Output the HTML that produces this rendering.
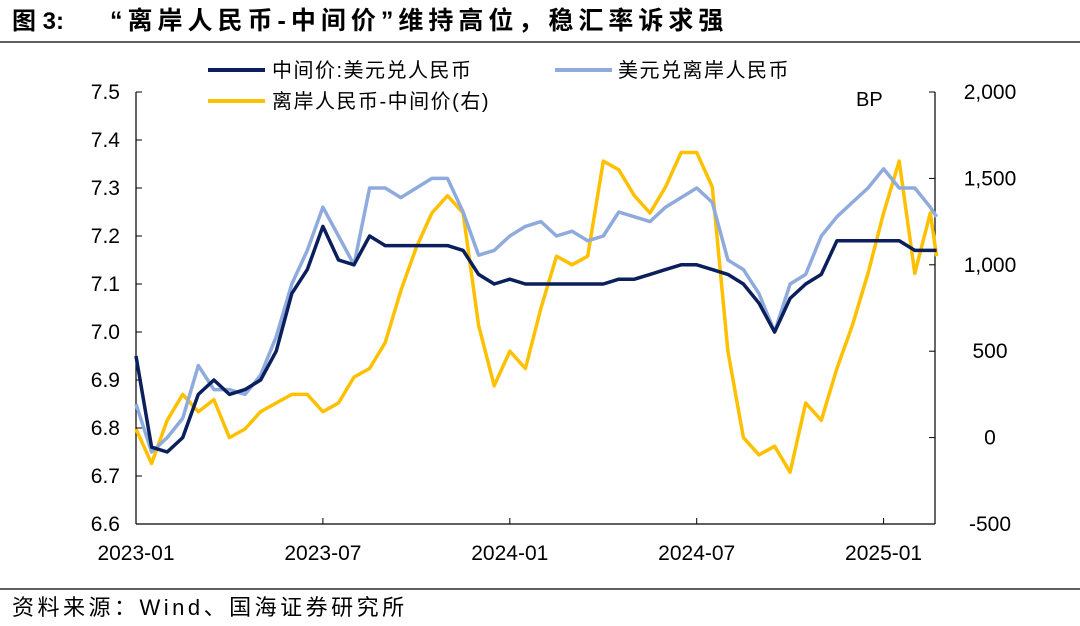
<!DOCTYPE html>
<html><head><meta charset="utf-8"><style>
body{margin:0;background:#fff;width:1080px;height:621px;overflow:hidden;font-family:"Liberation Sans","Noto Sans CJK SC",sans-serif}
</style></head><body>
<svg id="c" width="1080" height="621" xmlns="http://www.w3.org/2000/svg" font-family="Liberation Sans, Noto Sans CJK SC, sans-serif">
<text x="12" y="29" font-size="24" font-weight="bold" fill="#000">图 3:</text>
<text x="110" y="29" font-size="25" font-weight="bold" fill="#000" letter-spacing="5">“离岸人民币-中间价”维持高位，稳汇率诉求强</text>
<line x1="0" y1="42" x2="1080" y2="42" stroke="#000" stroke-width="1.2"/>
<line x1="0" y1="589" x2="1080" y2="589" stroke="#000" stroke-width="1.2"/>
<text x="12" y="615" font-size="22" fill="#000" letter-spacing="3.5">资料来源：Wind、国海证券研究所</text>
<g font-size="20" fill="#000" letter-spacing="1.5">
<line x1="208" y1="70" x2="265" y2="70" stroke="#0a1f5c" stroke-width="4"/>
<text x="272" y="77">中间价:美元兑人民币</text>
<line x1="555" y1="70" x2="612" y2="70" stroke="#8faadc" stroke-width="4"/>
<text x="618" y="77">美元兑离岸人民币</text>
<line x1="208" y1="101" x2="265" y2="101" stroke="#ffc000" stroke-width="4"/>
<text x="272" y="108">离岸人民币-中间价(右)</text>
</g>
<text x="856" y="106" font-size="20">BP</text>
<g id="axes"></g>
<g id="series"></g>
</svg>
<script>
const months=[0,0.5,1,1.5,2,2.5,3,3.5,4,4.5,5,5.5,6,6.5,7,7.5,8,8.5,9,9.5,10,10.5,11,11.5,12,12.5,13,13.5,14,14.5,15,15.5,16,16.5,17,17.5,18,18.5,19,19.5,20,20.5,21,21.5,22,22.5,23,23.5,24,24.5,25,25.5,25.7];
const central=[6.95,6.76,6.75,6.78,6.87,6.90,6.87,6.88,6.90,6.96,7.08,7.13,7.22,7.15,7.14,7.20,7.18,7.18,7.18,7.18,7.18,7.17,7.12,7.10,7.11,7.10,7.10,7.10,7.10,7.10,7.10,7.11,7.11,7.12,7.13,7.14,7.14,7.13,7.12,7.10,7.06,7.00,7.07,7.10,7.12,7.19,7.19,7.19,7.19,7.19,7.17,7.17,7.17];
const offshore=[6.85,6.75,6.78,6.82,6.93,6.88,6.88,6.87,6.91,6.99,7.10,7.17,7.26,7.20,7.14,7.30,7.30,7.28,7.30,7.32,7.32,7.25,7.16,7.17,7.20,7.22,7.23,7.20,7.21,7.19,7.20,7.25,7.24,7.23,7.26,7.28,7.30,7.27,7.15,7.13,7.08,7.00,7.10,7.12,7.20,7.24,7.27,7.30,7.34,7.30,7.30,7.26,7.24];
const spread=[50,-150,100,250,150,220,0,50,150,200,250,250,150,200,350,400,550,850,1100,1300,1400,1300,650,300,500,400,750,1050,1000,1050,1600,1550,1400,1300,1450,1650,1650,1450,500,0,-100,-50,-200,200,100,400,650,950,1300,1600,950,1300,1050];
const leftTicks=["7.5","7.4","7.3","7.2","7.1","7.0","6.9","6.8","6.7","6.6"];
const rightTicks=["2,000","1,500","1,000","500","0","-500"];
const xTicks=["2023-01","2023-07","2024-01","2024-07","2025-01"];
const X0=136,X1=935,Y0=92,Y1=524,PPM=31.15;
const x=m=>X0+m*PPM;
const yL=v=>Y1-(v-6.6)/0.9*(Y1-Y0);
const yR=v=>Y1-(v+500)/2500*(Y1-Y0);
const NS="http://www.w3.org/2000/svg";
function mk(t,a,p){const e=document.createElementNS(NS,t);for(const k in a)e.setAttribute(k,a[k]);p.appendChild(e);return e;}
const ax=document.getElementById('axes'),se=document.getElementById('series');
let e=mk('line',{x1:X0,y1:Y0,x2:X0,y2:Y1,stroke:'#000','stroke-width':1.2},ax);

e=mk('line',{x1:X1,y1:Y0,x2:X1,y2:Y1,stroke:'#000','stroke-width':1.2},ax);

e=mk('line',{x1:X0,y1:Y1,x2:X1,y2:Y1,stroke:'#000','stroke-width':1.2},ax);

leftTicks.forEach(t=>{const yy=yL(parseFloat(t));
 let l=mk('line',{x1:X0,y1:yy,x2:X0+6,y2:yy,stroke:'#000'},ax);
 
 let s=mk('text',{x:X0-16,y:yy+7,'font-size':21,'text-anchor':'end'},ax);s.textContent=t;
 });
rightTicks.forEach(t=>{const yy=yR(parseFloat(t.replace(',','')));
 let l=mk('line',{x1:X1-6,y1:yy,x2:X1,y2:yy,stroke:'#000'},ax);
 
 let s=mk('text',{x:990,y:yy+7,'font-size':21,'text-anchor':'middle'},ax);s.textContent=t;
 });
xTicks.forEach((t,i)=>{const xx=x(i*6);
 let l=mk('line',{x1:xx,y1:Y1,x2:xx,y2:Y1-6,stroke:'#000'},ax);
 
 let s=mk('text',{x:xx,y:560,'font-size':21,'text-anchor':'middle'},ax);s.textContent=t;
 });
function line(vals,fy,col,name){const d=vals.map((v,i)=>(i?'L':'M')+x(months[i]).toFixed(1)+','+fy(v).toFixed(1)).join('');
 const p=mk('path',{d:d,fill:'none',stroke:col,'stroke-width':3.5,'stroke-linejoin':'round'},se);
 }
line(spread,yR,'#ffc000','spread-line');
line(offshore,yL,'#8faadc','offshore-line');
line(central,yL,'#0a1f5c','central-parity-line');
</script>
</body></html>
